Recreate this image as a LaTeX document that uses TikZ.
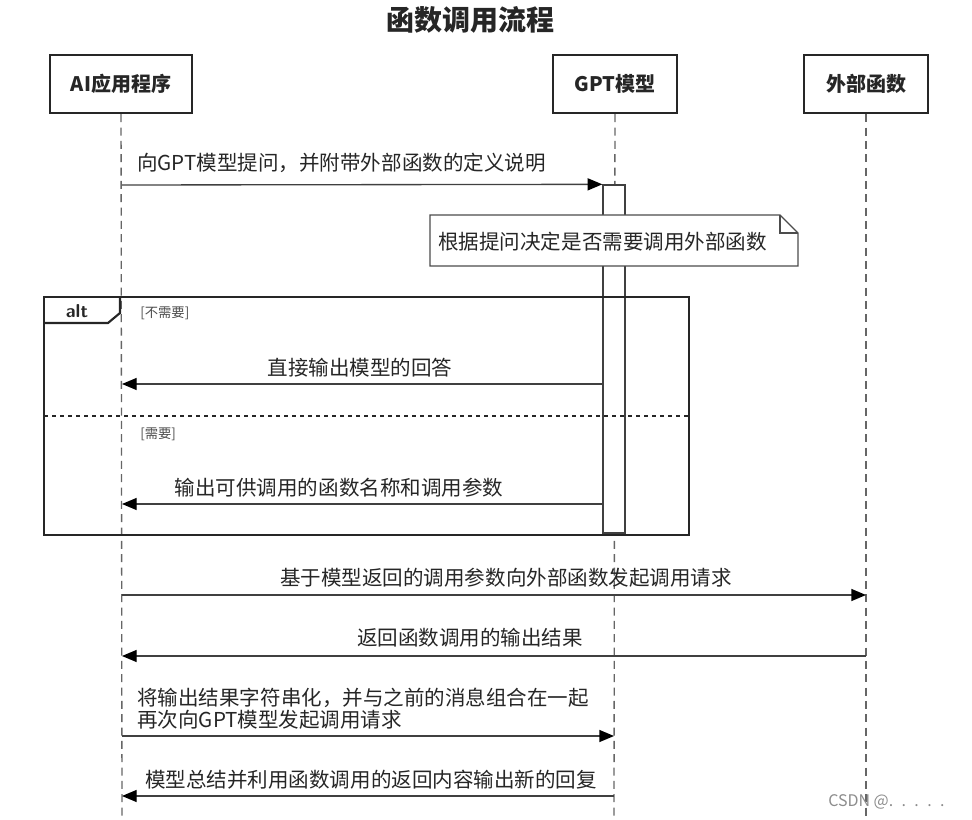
\documentclass[tikz,border=0pt]{standalone}
\usepackage{fontspec}
\newfontfamily\cjk{Noto Sans CJK SC}
\usetikzlibrary{arrows.meta}

\begin{document}
\begin{tikzpicture}[x=0.75pt, y=-0.75pt, >={Triangle[length=11pt,width=9pt,color=black]},
    font=\cjk\fontsize{15.4}{18}\selectfont, text=black!85]

    \tikzstyle{participant}=[draw=black!85, line width=1.8pt, fill=white, minimum height=43.5pt, minimum width=93pt, inner sep=0pt, font=\cjk\bfseries\fontsize{15}{18}\selectfont]
    \tikzstyle{lifeline}=[draw=black!60, line width=1pt, dash pattern=on 6pt off 4pt]
    \tikzstyle{msg}=[->, draw=black!75, line width=1pt]
    \tikzstyle{guard}=[anchor=west, inner sep=0pt, text=black!70, font=\cjk\fontsize{10}{12}\selectfont]
    \tikzstyle{frame}=[draw=black!85, line width=1.6pt]

    \useasboundingbox (0,0) rectangle (972,820);

    \node (title) at (470,20) {\bfseries\fontsize{21}{24}\selectfont 函数调用流程};

    % participants
    \node[participant, minimum width=106.5pt] (app) at (121,84) {AI应用程序};
    \node[participant]                        (gpt) at (615,84) {GPT模型};
    \node[participant]                        (ext) at (866,84) {外部函数};

    \coordinate (app end) at (122,820);
    \coordinate (gpt end) at (614,820);
    \coordinate (ext end) at (866,820);

    \draw[lifeline] (app) -- (app end);
    \draw[lifeline] (gpt) -- (gpt end);
    \draw[lifeline] (ext) -- (ext end);

    % activation of the model
    \node[draw=black!75, line width=1pt, fill=white, minimum width=16.5pt, minimum height=261pt, inner sep=0pt] (act) at (614,359) {};

    % note
    \draw[draw=black!70, line width=1pt, fill=white] (430,215) -- (780,215) -- (798,233) -- (798,266) -- (430,266) -- cycle;
    \draw[draw=black!70, line width=1pt] (780,215) -- (780,233) -- (798,233);
    \node[anchor=west, inner sep=0pt] (note) at (438,242) {根据提问决定是否需要调用外部函数};

    % alt frame
    \draw[frame] (44,297) rectangle (689,535);
    \draw[frame] (44,323) -- (108,323) -- (120,313) -- (120,297);
    \node[inner sep=0pt, font=\sffamily\bfseries\fontsize{14}{16}\selectfont] (alt) at (77,311) {alt};
    \node[guard] (g no)  at (140,313) {[不需要]};
    \node[guard] (g yes) at (140,434) {[需要]};
    \draw[draw=black!85, line width=1.5pt, dash pattern=on 3pt off 3pt] (44,416) -- (689,416);

    % message ends
    \coordinate (a1) at (122,185);
    \coordinate (a2) at (122,384);
    \coordinate (a3) at (122,504);
    \coordinate (a4) at (122,595);
    \coordinate (a5) at (122,656);
    \coordinate (a6) at (122,736);
    \coordinate (a7) at (122,796);
    \coordinate (m2) at (603,384);
    \coordinate (m3) at (603,504);
    \coordinate (m6) at (614,736);
    \coordinate (m7) at (614,796);
    \coordinate (e4) at (866,595);
    \coordinate (e5) at (866,656);

    % messages
    \draw[msg] (a1) -- (act.north west);
    \draw[msg] (m2) -- (a2);
    \draw[msg] (m3) -- (a3);
    \draw[msg] (a4) -- (e4);
    \draw[msg] (e5) -- (a5);
    \draw[msg] (a6) -- (m6);
    \draw[msg] (m7) -- (a7);

    % labels
    \node[anchor=west, inner sep=0pt] (l1) at (137,163) {向GPT模型提问，并附带外部函数的定义说明};
    \node[inner sep=0pt] (l2) at (360,368) {直接输出模型的回答};
    \node[inner sep=0pt] (l3) at (339,488) {输出可供调用的函数名称和调用参数};
    \node[inner sep=0pt] (l4) at (506,578) {基于模型返回的调用参数向外部函数发起调用请求};
    \node[inner sep=0pt] (l5) at (470,638) {返回函数调用的输出结果};
    \node[anchor=west, align=left, inner sep=0pt, font=\cjk\fontsize{15.4}{16.5}\selectfont] (l6) at (137,709) {将输出结果字符串化，并与之前的消息组合在一起\\再次向GPT模型发起调用请求};
    \node[inner sep=0pt] (l7) at (371,780) {模型总结并利用函数调用的返回内容输出新的回复};

    \node[anchor=west, inner sep=0pt, text=black!45, font=\cjk\fontsize{12}{14}\selectfont] (mark) at (828,802) {CSDN @. \ . \ . \ . \ .};

\end{tikzpicture}
\end{document}
